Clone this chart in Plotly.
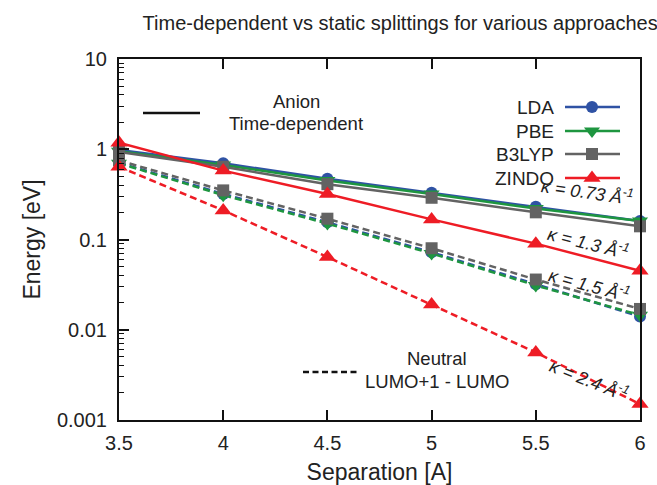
import plotly.graph_objects as go

# ---------------- data ----------------
separation = [3.5, 4.0, 4.5, 5.0, 5.5, 6.0]
series_names = ["LDA", "PBE", "B3LYP", "ZINDO"]

# Anion, time-dependent (solid)
lda_td = [0.98, 0.70, 0.47, 0.33, 0.23, 0.16]
pbe_td = [0.95, 0.67, 0.45, 0.32, 0.22, 0.16]
b3lyp_td = [0.93, 0.64, 0.41, 0.29, 0.20, 0.14]
zindo_td = [1.18, 0.58, 0.32, 0.167, 0.09, 0.045]

# Neutral, LUMO+1 - LUMO (dashed)
lda_st = [0.71, 0.32, 0.155, 0.072, 0.032, 0.014]
pbe_st = [0.70, 0.31, 0.15, 0.070, 0.031, 0.0145]
b3lyp_st = [0.75, 0.35, 0.17, 0.080, 0.036, 0.017]
zindo_st = [0.64, 0.21, 0.064, 0.019, 0.0056, 0.0015]

x_ticks = [3.5, 4.0, 4.5, 5.0, 5.5, 6.0]
x_ticklabels = ["3.5", "4", "4.5", "5", "5.5", "6"]
y_ticks = [0.001, 0.01, 0.1, 1, 10]
y_ticklabels = ["0.001", "0.01", "0.1", "1", "10"]

kappa_labels = ["κ = 0.73 Å<sup>-1</sup>", "κ = 1.3 Å<sup>-1</sup>",
                "κ = 1.5 Å<sup>-1</sup>", "κ = 2.4 Å<sup>-1</sup>"]

colors = ["#2f52a4", "#1e9640", "#636363", "#ee1c25"]
symbols = ["circle", "triangle-down", "square", "triangle-up"]
msizes = [12, 14, 12, 15]

td = [lda_td, pbe_td, b3lyp_td, zindo_td]
st = [lda_st, pbe_st, b3lyp_st, zindo_st]

FONT = "Liberation Sans, Arial, Helvetica, sans-serif"
DASH = "7px,4px"

fig = go.Figure()

# dashed (neutral) first
for name, ys, c, s, ms in zip(series_names, st, colors, symbols, msizes):
    fig.add_trace(go.Scatter(
        x=separation, y=ys, mode="lines+markers", name=name + " static",
        line=dict(color=c, width=2.5, dash=DASH),
        marker=dict(symbol=s, size=ms, color=c),
        cliponaxis=False, showlegend=False))

for name, ys, c, s, ms in zip(series_names, td, colors, symbols, msizes):
    fig.add_trace(go.Scatter(
        x=separation, y=ys, mode="lines+markers", name=name,
        line=dict(color=c, width=2.5),
        marker=dict(symbol=s, size=ms, color=c),
        cliponaxis=False, showlegend=False))

# ---- custom legend (pixel-like overlay axis) ----
leg_y = [107, 131, 154, 178]
for name, c, s, ms, yy in zip(series_names, colors, symbols, msizes, leg_y):
    fig.add_trace(go.Scatter(
        x=[565, 592, 620], y=[yy, yy, yy], xaxis="x2", yaxis="y2",
        mode="lines", line=dict(color=c, width=2.5),
        showlegend=False, hoverinfo="skip", cliponaxis=False))
    fig.add_trace(go.Scatter(
        x=[592], y=[yy], xaxis="x2", yaxis="y2", mode="markers",
        marker=dict(symbol=s, size=ms, color=c),
        showlegend=False, hoverinfo="skip", cliponaxis=False))
    fig.add_annotation(x=556, y=yy, xref="x2", yref="y2", text=name,
                       showarrow=False, xanchor="right", yanchor="middle",
                       font=dict(family=FONT, size=19, color="#222"))

# line-style keys
fig.add_trace(go.Scatter(x=[143, 200], y=[113, 113], xaxis="x2", yaxis="y2",
                         mode="lines", line=dict(color="#111", width=2.5),
                         showlegend=False, hoverinfo="skip"))
fig.add_trace(go.Scatter(x=[303, 358], y=[372, 372], xaxis="x2", yaxis="y2",
                         mode="lines", line=dict(color="#111", width=2.5, dash="6px,3.5px"),
                         showlegend=False, hoverinfo="skip"))
for txt, xx, yy in [("Anion", 296, 101), ("Time-dependent", 296, 123),
                    ("Neutral", 437, 358), ("LUMO+1 - LUMO", 437, 381)]:
    fig.add_annotation(x=xx, y=yy, xref="x2", yref="y2", text=txt,
                       showarrow=False, xanchor="center", yanchor="middle",
                       font=dict(family=FONT, size=18.5, color="#222"))

# kappa labels
for txt, xx, yy, ang in zip(kappa_labels, [587, 588, 589, 589], [191, 242, 284, 379],
                            [8, 14, 15, 22]):
    fig.add_annotation(x=xx, y=yy, xref="x2", yref="y2", text="<i>" + txt + "</i>",
                       showarrow=False, textangle=ang, xanchor="center", yanchor="middle",
                       font=dict(family=FONT, size=18, color="#222"))

axis_common = dict(showgrid=False, zeroline=False, showline=True, linecolor="#111",
                   linewidth=2, ticks="inside", ticklen=10, tickwidth=1.5,
                   tickcolor="#111", automargin=False)

fig.update_layout(
    width=657, height=485,
    margin=dict(l=119, r=17, t=59, b=65),
    paper_bgcolor="white", plot_bgcolor="white",
    title=dict(text="Time-dependent vs static splittings for various approaches",
               x=0.609, xanchor="center", y=0.953, yanchor="middle",
               font=dict(family=FONT, size=20, color="#222")),
    font=dict(family=FONT, color="#222"),
    xaxis=dict(range=[3.5, 6], tickvals=x_ticks, ticktext=x_ticklabels,
               mirror="allticks", tickfont=dict(size=20), ticklabelstandoff=4,
               title=dict(text="Separation [A]", font=dict(size=23), standoff=12),
               **axis_common),
    yaxis=dict(type="log", range=[-3, 1], tickvals=y_ticks, ticktext=y_ticklabels,
               mirror=True, tickfont=dict(size=20), ticklabelstandoff=6,
               minor=dict(ticks="inside", ticklen=5, tickwidth=1.2, tickcolor="#111",
                          dtick="D1", showgrid=False),
               title=dict(text="Energy [eV]", font=dict(size=23), standoff=10),
               **axis_common),
    yaxis3=dict(type="log", range=[-3, 1], tickvals=y_ticks, overlaying="y",
                side="right", showticklabels=False,
                minor=dict(ticks="inside", ticklen=5, tickwidth=1.2, tickcolor="#111",
                           dtick="D1", showgrid=False),
                fixedrange=True, **axis_common),
    xaxis2=dict(overlaying="x", range=[119, 640], visible=False, fixedrange=True),
    yaxis2=dict(overlaying="y", range=[420, 59], visible=False, fixedrange=True),
)

fig.write_html("out.html")
